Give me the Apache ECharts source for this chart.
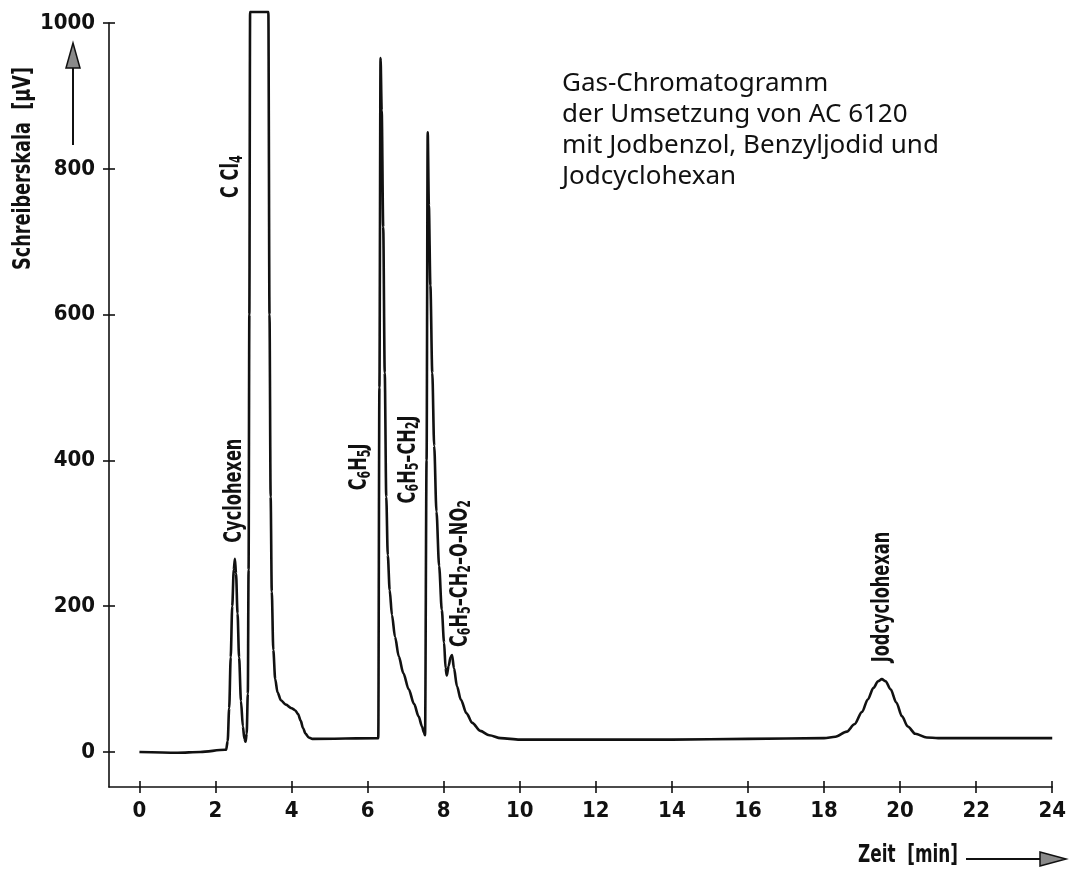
<!DOCTYPE html>
<html>
<head>
<meta charset="utf-8">
<script src="https://cdn.jsdelivr.net/npm/echarts@6/dist/echarts.min.js"></script>
<style>
  html, body { margin: 0; padding: 0; background: #fff; }
  #chart { width: 1069px; height: 876px; }
</style>
</head>
<body>
<div id="chart"></div>
<script>
// retention time [min] and recorder signal [µV]
const timeMin = [
    0, 1, 1.6, 2.25,
    2.28, 2.32, 2.36, 2.40, 2.44, 2.48, 2.51, 2.54, 2.58, 2.62, 2.67, 2.72, 2.76, 2.79,
    2.82, 2.85, 2.87, 2.89, 2.91,
    3.39, 3.42, 3.45, 3.48, 3.52, 3.57, 3.63, 3.72, 3.85, 4.0, 4.1, 4.17, 4.24, 4.3,
    4.37, 4.45, 4.55,
    6.28, 6.31, 6.34, 6.37, 6.41, 6.45, 6.49, 6.53, 6.58, 6.64, 6.72, 6.82, 6.94,
    7.08, 7.22, 7.34, 7.43, 7.48, 7.51,
    7.55, 7.58, 7.61, 7.65, 7.7, 7.75, 7.81, 7.88, 7.95, 8.01, 8.05, 8.08, 8.13, 8.18,
    8.22, 8.27, 8.35, 8.45, 8.6, 8.75, 8.96, 9.2, 9.5, 10, 12, 14, 16, 18,
    18.3, 18.6, 18.8, 19.0, 19.15, 19.3, 19.42, 19.52, 19.62, 19.75, 19.9, 20.05, 20.2,
    20.4, 20.7, 21, 22.5, 24
];
const signal = [
    0, -1, 0, 3,
    3, 15, 60, 130, 200, 250, 265, 245, 190, 130, 70, 35, 18, 14,
    25, 80, 250, 600, 1015,
    1015, 600, 350, 220, 140, 100, 82, 71, 65, 60, 57, 52, 43, 33,
    25, 20, 18,
    19, 500, 952, 880, 720, 520, 350, 270, 222, 188, 158, 131, 108,
    86, 66, 49, 35, 27, 23,
    400, 850, 750, 640, 520, 420, 330, 255, 195, 150, 115, 105, 118, 130,
    133, 115, 90, 72, 53, 40, 29, 23, 19, 17, 17, 17, 18, 19,
    21, 28, 38, 55, 72, 88, 97, 100, 97, 86, 68, 49, 35,
    25, 20, 19, 19, 19
];

const xTicks = [0, 2, 4, 6, 8, 10, 12, 14, 16, 18, 20, 22, 24];
const yTicks = [0, 200, 400, 600, 800, 1000];

const titleLines = [
    'Gas-Chromatogramm',
    'der Umsetzung von AC 6120',
    'mit Jodbenzol, Benzyljodid und',
    'Jodcyclohexan'
];
const yAxisTitle = 'Schreiberskala  [μV]';
const xAxisTitle = 'Zeit  [min]';

// peak labels as rich text: n = normal, s = subscript
const peakLabels = [
    '{n|Cyclohexen}',
    '{n|C Cl}{s|4}',
    '{n|C}{s|6}{n|H}{s|5}{n|J}',
    '{n|C}{s|6}{n|H}{s|5}{n|–CH}{s|2}{n|J}',
    '{n|C}{s|6}{n|H}{s|5}{n|–CH}{s|2}{n|–O–NO}{s|2}',
    '{n|Jodcyclohexan}'
];

const condensed = "'DejaVu Sans Condensed', 'DejaVu Sans', sans-serif";
const ink = '#111';

const seriesData = timeMin.map((t, i) => [t, signal[i]]);

function baseX(inside) {
    return {
        type: 'value', min: -0.8, max: 24, position: 'bottom',
        axisLine: { show: !inside, onZero: false, lineStyle: { color: ink, width: 1.6 } },
        axisTick: { show: true, inside: inside, length: 6, customValues: xTicks, lineStyle: { color: ink, width: 1.6 } },
        axisLabel: {
            show: !inside, customValues: xTicks, margin: 13,
            formatter: v => String(v),
            fontFamily: condensed, fontWeight: 'bold', fontSize: 22, color: ink
        },
        splitLine: { show: false }
    };
}

function baseY(inside) {
    return {
        type: 'value', min: -48, max: 1000, position: 'left',
        axisLine: { show: !inside, onZero: false, lineStyle: { color: ink, width: 1.6 } },
        axisTick: { show: true, inside: inside, length: 6, customValues: yTicks, lineStyle: { color: ink, width: 1.6 } },
        axisLabel: {
            show: !inside, customValues: yTicks, margin: 14,
            formatter: v => String(v),
            fontFamily: condensed, fontWeight: 'bold', fontSize: 22, color: ink
        },
        splitLine: { show: false }
    };
}

const chart = echarts.init(document.getElementById('chart'), null, { renderer: 'canvas' });

chart.setOption({
    backgroundColor: '#fff',
    animation: false,
    grid: { left: 109, right: 9, top: 23, bottom: 89, containLabel: false },
    xAxis: [baseX(false), baseX(true)],
    yAxis: [baseY(false), baseY(true)],
    series: [{
        type: 'line',
        data: seriesData,
        showSymbol: false,
        clip: false,
        smooth: 0.3,
        smoothMonotone: 'x',
        lineStyle: { color: ink, width: 2.6 }
    }]
});

// text width helper, used to squeeze the stencil lettering to its drawn length
const ctx = document.createElement('canvas').getContext('2d');
function textWidth(text, font) {
    ctx.font = font;
    return ctx.measureText(text).width;
}

// label anchors: bottom-centre of each rotated label, in [min, µV]
const anchors = [[2.49, 287], [2.43, 760], [5.79, 359], [7.07, 341], [8.43, 144], [19.54, 123]];

const richStyles = {
    n: { fontFamily: condensed, fontWeight: 'bold', fontSize: 25, lineHeight: 28, fill: ink },
    s: { fontFamily: condensed, fontWeight: 'bold', fontSize: 17, lineHeight: 14, verticalAlign: 'bottom', fill: ink }
};

const graphics = peakLabels.map((txt, i) => {
    const p = chart.convertToPixel({ gridIndex: 0 }, anchors[i]);
    return {
        type: 'text', x: p[0], y: p[1], rotation: Math.PI / 2, scaleX: 0.72,
        style: { text: txt, rich: richStyles, align: 'left', verticalAlign: 'middle' }
    };
});

graphics.push({
    type: 'text', x: 562, y: 68,
    style: {
        text: titleLines.join('\n'), fontFamily: "'Noto Sans', sans-serif", fontSize: 26,
        lineHeight: 31, fill: ink, align: 'left', verticalAlign: 'top'
    }
});

const yFont = 'bold 25px ' + condensed;
graphics.push({
    type: 'text', x: 23, y: 270, rotation: Math.PI / 2,
    scaleX: 203 / textWidth(yAxisTitle, yFont),
    style: {
        text: yAxisTitle, font: yFont, fill: ink, align: 'left', verticalAlign: 'middle'
    }
});

const xFont = 'bold 25px ' + condensed;
graphics.push({
    type: 'text', x: 958, y: 855,
    scaleX: 100 / textWidth(xAxisTitle, xFont),
    style: {
        text: xAxisTitle, font: xFont, fill: ink, align: 'right', verticalAlign: 'middle'
    }
});

// arrows next to the axis titles
graphics.push({ type: 'line', shape: { x1: 73, y1: 145, x2: 73, y2: 66 }, style: { stroke: ink, lineWidth: 2 } });
graphics.push({ type: 'polygon', shape: { points: [[66, 68], [80, 68], [73, 43]] }, style: { fill: '#8a8a8a', stroke: ink, lineWidth: 1.5 } });
graphics.push({ type: 'line', shape: { x1: 966, y1: 859, x2: 1042, y2: 859 }, style: { stroke: ink, lineWidth: 2 } });
graphics.push({ type: 'polygon', shape: { points: [[1040, 852], [1040, 866], [1066, 859]] }, style: { fill: '#8a8a8a', stroke: ink, lineWidth: 1.5 } });

chart.setOption({ graphic: graphics });
</script>
</body>
</html>
